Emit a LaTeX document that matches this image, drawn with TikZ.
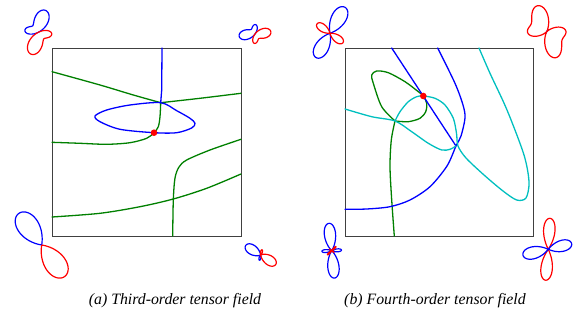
\documentclass[tikz,border=0pt]{standalone}
\usepackage{fontspec}
\setmainfont{Liberation Serif}
\definecolor{mblue}{RGB}{0,0,255}
\definecolor{mred}{RGB}{255,0,0}
\definecolor{mgreen}{RGB}{0,128,0}
\definecolor{mcyan}{RGB}{0,191,191}
\tikzset{
  curve/.style={line width=1.3pt, line join=round, line cap=round},
  glyph/.style={line width=1.2pt, line join=round},
  frame/.style={draw=black!75, line width=0.9pt},
  caption/.style={font=\fontsize{15.8}{18}\selectfont\itshape, inner sep=0pt},
  dot/.style={fill=mred},
  declare function={
    fA(\t)=18.3*(cos(\t-105)+0.45*cos(3*(\t-65)));
    fB(\t)=12.7*(cos(\t-155)+0.45*cos(3*(\t-75)));
    fD(\t)=10.6*(cos(\t-160)+0.7*cos(3*(\t-146)));
    fF(\t)=-(14.7+11*cos(2*(\t-135))+6.8*cos(4*(\t-102)));
    fG(\t)=7.6+9*cos(2*(\t-100))+11*cos(4*(\t-95));
  }
}
% polar glyph: cx, cy, function
\newcommand\polglyph[3]{%
  \draw[glyph,mblue] plot[domain=0:360,samples=361] ({#1+max(#3(\x),0)*cos(\x)},{#2-max(#3(\x),0)*sin(\x)});
  \draw[glyph,mred] plot[domain=0:360,samples=361] ({#1+max(-#3(\x),0)*cos(\x)},{#2-max(-#3(\x),0)*sin(\x)});
}
% petal: cx, cy, L, phi, h, lo, hi, colour
\newcommand\petal[8]{%
  \draw[glyph,#8] plot[domain=#6:#7,samples=61] ({#1+#3*cos(90*(\x-(#4))/(#5))*cos(\x)},{#2-#3*cos(90*(\x-(#4))/(#5))*sin(\x)});
}
\begin{document}
\begin{tikzpicture}[x=1pt,y=-1pt]
\useasboundingbox (0,0) rectangle (573,320);

% ---------------- left panel ----------------
\draw[frame] (52,48) rectangle (241,236);
% green
\draw[curve,mgreen] plot[smooth] coordinates {(52,71.7) (100,85) (133.3,95) (160.7,102.7)};
\draw[curve,mgreen] plot[smooth] coordinates {(160.7,102.7) (200,98.3) (241,93.3)};
\draw[curve,mgreen] plot[smooth] coordinates {(160.7,102.7) (160,116.7) (158.3,126.7) (154,132.7) (146.7,138.3) (130,142.7) (106.7,144.3) (80,143.3) (52,142.3)};
\draw[curve,mgreen] plot[smooth] coordinates {(241,139.3) (210,150) (186.7,160) (179,167) (175,178) (173.3,200) (172.7,236)};
\draw[curve,mgreen] plot[smooth] coordinates {(52,217) (100,213.3) (140,206.7) (173.3,199) (206.7,188.3) (241,174)};
% blue
\draw[curve,mblue] (162,48) -- (161.7,90) -- (160.7,102.7);
\draw[curve,mblue] plot[smooth cycle] coordinates {(160.7,102.7) (176.7,110.7) (190,118.3) (195,123.3) (191.7,128) (176.7,132.7) (154,132.7) (120,129.3) (100,121.7) (95,116) (106.7,110) (130,105)};
\fill[dot] (154,132.7) circle (3.3);

% glyphs left
\polglyph{38.3}{32.3}{fA}
\polglyph{255}{34}{fB}
\petal{41.7}{245}{39}{126}{45}{81}{171}{mblue}
\petal{41.7}{245}{39}{306}{45}{261}{351}{mred}
\polglyph{260.7}{255}{fD}

% ---------------- right panel ----------------
\draw[frame] (345,48) rectangle (533,236);
% green
\draw[curve,mgreen] plot[smooth] coordinates {(394.3,236) (391.7,200) (390,166.7) (391.3,140) (395,121)};
\draw[curve,mgreen] plot[smooth] coordinates {(395,121) (381.7,106.7) (373.3,83.3) (371.7,75) (376.7,71) (388.3,72.7) (405,81.7) (418.3,91.7) (423.3,96) (426.7,103.3) (425.7,111.7) (420,118.3) (408.3,121.7) (395,121)};
% blue
\draw[curve,mblue] (391.7,48) -- (456,146);
\draw[curve,mblue] plot[smooth] coordinates {(437.7,48) (455,83.3) (463,105) (465,118) (461,136) (456,146) (447,166) (430,186.7) (410,200) (390,206.7) (366.7,209) (345,209.3)};
% cyan
\draw[curve,mcyan] plot[smooth] coordinates {(345,109) (371.7,116.7) (395,121) (411.7,131.7) (428.3,143.3) (441.7,150) (450,149.3) (456,146)};
\draw[curve,mcyan] plot[smooth] coordinates {(395,121) (400,111.7) (408.3,101.7) (416.7,96.7) (423.3,96) (435,98.3) (445,105) (453.3,118.3) (456.5,133.3) (458,146) (466,158) (484,175) (503,191) (516.7,200) (526,198) (529,182) (524,155) (507,110) (490,73.3) (479,48)};
\fill[dot] (423.3,96) circle (3.3);

% glyphs right
\petal{330}{33.3}{30}{60}{40}{20}{100}{mblue}
\petal{330}{33.3}{28}{240}{40}{200}{280}{mblue}
\petal{330}{33.3}{16}{144}{38}{106}{182}{mred}
\petal{330}{33.3}{16}{324}{38}{286}{362}{mred}
\polglyph{546.7}{31.7}{fF}
\polglyph{331.7}{250.7}{fG}
\petal{548.3}{249.3}{31}{87}{30}{57}{117}{mred}
\petal{548.3}{249.3}{31}{265}{30}{235}{295}{mred}
\petal{548.3}{249.3}{24}{14}{38}{-24}{52}{mblue}
\petal{548.3}{249.3}{26}{193}{38}{155}{231}{mblue}

% captions
\node[caption] (capa) at (175,301) {(a) Third-order tensor field};
\node[caption] (capb) at (435,301) {(b) Fourth-order tensor field};
\end{tikzpicture}
\end{document}
